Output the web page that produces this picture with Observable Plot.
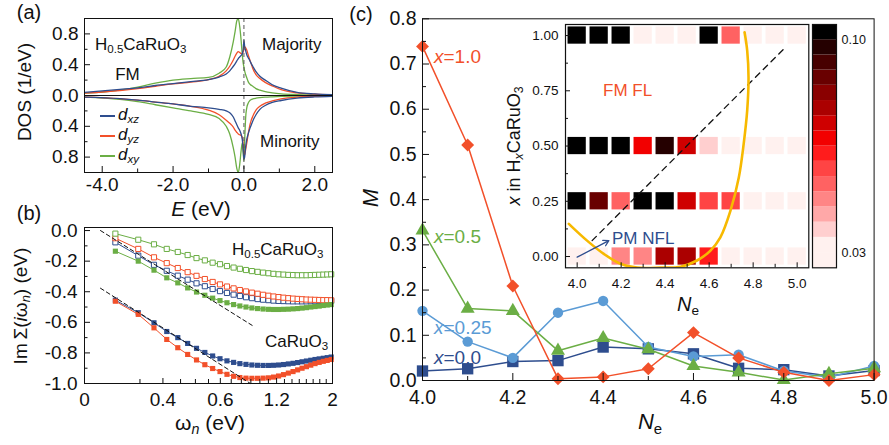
<!DOCTYPE html>
<html><head><meta charset="utf-8">
<script src="https://cdn.jsdelivr.net/npm/d3@7"></script>
<script src="https://cdn.jsdelivr.net/npm/@observablehq/plot@0.6"></script>
<style>
body{margin:0;background:#fff;}
#wrap{position:relative;width:889px;height:445px;overflow:hidden;font-family:"Liberation Sans",Arial,Helvetica,sans-serif;color:#111;background:#fff;}
#wrap svg{position:absolute;left:0;top:0;overflow:visible;background:transparent;}
.t{position:absolute;white-space:nowrap;line-height:1;}
.sub{font-size:0.68em;vertical-align:-0.3em;}
.sw{position:absolute;height:2px;width:15px;}
</style></head><body><div id="wrap"></div>
<script>
// ---------------- Panel (a): DOS ----------------
const energy = [-4.5,-3.5,-3,-2.5,-2,-1.5,-1,-0.7,-0.5,-0.4,-0.3,-0.25,-0.2,-0.16,-0.12,-0.08,-0.05,-0.02,0,0.02,0.05,0.08,0.12,0.16,0.2,0.25,0.34,0.45,0.6,0.8,1.05,1.5,2,2.5];
const majXZ = [0.04,0.08,0.1,0.13,0.155,0.18,0.205,0.24,0.28,0.32,0.38,0.41,0.45,0.48,0.5,0.52,0.54,0.6,0.72,0.64,0.58,0.53,0.49,0.46,0.42,0.38,0.31,0.25,0.2,0.14,0.095,0.04,0.02,0.01];
const majYZ = [0.03,0.065,0.09,0.12,0.15,0.175,0.205,0.25,0.32,0.38,0.46,0.51,0.55,0.57,0.56,0.545,0.545,0.57,0.6,0.63,0.62,0.59,0.53,0.47,0.42,0.35,0.27,0.22,0.17,0.125,0.075,0.035,0.018,0.008];
const majXY = [0.03,0.07,0.11,0.16,0.2,0.22,0.235,0.29,0.37,0.5,0.7,0.83,0.97,1.0,0.9,0.72,0.55,0.42,0.37,0.32,0.27,0.23,0.18,0.15,0.135,0.12,0.09,0.07,0.05,0.035,0.022,0.012,0.007,0.005];
const minXZ = [0.02,0.04,0.06,0.085,0.11,0.14,0.16,0.18,0.2,0.225,0.28,0.33,0.38,0.42,0.45,0.5,0.56,0.7,0.83,0.8,0.66,0.57,0.5,0.44,0.39,0.33,0.25,0.18,0.13,0.09,0.065,0.034,0.018,0.01];
const minYZ = [0.02,0.04,0.06,0.085,0.11,0.14,0.19,0.25,0.32,0.36,0.41,0.45,0.48,0.5,0.51,0.52,0.54,0.64,0.78,0.77,0.7,0.62,0.5,0.4,0.33,0.27,0.19,0.14,0.1,0.07,0.043,0.02,0.012,0.008];
const minXY = [0.02,0.05,0.08,0.12,0.16,0.2,0.245,0.3,0.4,0.5,0.68,0.8,0.95,1.0,0.9,0.72,0.62,0.75,0.85,0.6,0.28,0.16,0.1,0.07,0.055,0.045,0.035,0.028,0.022,0.017,0.012,0.008,0.005,0.004];
const aXLabels = [-4,-2,0,2];
const aXMinor = [-3,-1,1];
const aYLabels = [-0.8,-0.4,0,0.4,0.8];
const aYMinor = [-0.6,-0.2,0.2,0.6];

// ---------------- Panel (b): Im Sigma ----------------
const omega = [0.031,0.094,0.157,0.220,0.283,0.346,0.408,0.471,0.534,0.597,0.660,0.723,0.785,0.848,0.911,0.974,1.037,1.100,1.162,1.225,1.288,1.351,1.414,1.477,1.539,1.602,1.665,1.728,1.791,1.854,1.916,1.979];
const h05OpenXY = [-0.02,-0.06,-0.09,-0.12,-0.14,-0.16,-0.18,-0.195,-0.21,-0.22,-0.232,-0.242,-0.25,-0.258,-0.265,-0.27,-0.275,-0.279,-0.283,-0.286,-0.288,-0.29,-0.291,-0.292,-0.292,-0.292,-0.291,-0.29,-0.289,-0.288,-0.287,-0.286];
const h05OpenYZ = [-0.05,-0.12,-0.175,-0.213,-0.245,-0.272,-0.296,-0.317,-0.336,-0.352,-0.366,-0.378,-0.389,-0.398,-0.406,-0.413,-0.42,-0.426,-0.431,-0.435,-0.439,-0.442,-0.445,-0.447,-0.449,-0.451,-0.452,-0.453,-0.454,-0.455,-0.455,-0.456];
const h05OpenXZ = [-0.077,-0.164,-0.224,-0.263,-0.295,-0.321,-0.345,-0.364,-0.382,-0.396,-0.408,-0.419,-0.428,-0.436,-0.442,-0.448,-0.452,-0.455,-0.458,-0.46,-0.461,-0.462,-0.463,-0.463,-0.463,-0.463,-0.462,-0.462,-0.461,-0.461,-0.46,-0.46];
const h05FilledXY = [-0.135,-0.2,-0.259,-0.309,-0.342,-0.375,-0.402,-0.423,-0.442,-0.458,-0.472,-0.484,-0.493,-0.5,-0.506,-0.51,-0.513,-0.515,-0.516,-0.516,-0.515,-0.514,-0.512,-0.51,-0.507,-0.504,-0.5,-0.497,-0.494,-0.49,-0.487,-0.484];
const caXZ = [-0.455,-0.537,-0.603,-0.66,-0.7,-0.738,-0.77,-0.797,-0.82,-0.838,-0.852,-0.862,-0.87,-0.875,-0.879,-0.881,-0.882,-0.882,-0.881,-0.879,-0.876,-0.872,-0.868,-0.863,-0.858,-0.853,-0.848,-0.843,-0.839,-0.835,-0.831,-0.827];
const caYZ = [-0.462,-0.548,-0.636,-0.712,-0.766,-0.81,-0.846,-0.877,-0.902,-0.922,-0.94,-0.953,-0.961,-0.965,-0.966,-0.966,-0.965,-0.963,-0.958,-0.951,-0.942,-0.932,-0.922,-0.911,-0.9,-0.89,-0.88,-0.87,-0.862,-0.855,-0.849,-0.843];
const dashUpperW = [0.0083, 0.914], dashUpperS = [0, -0.62];
const dashLowerW = [0.0083, 0.895], dashLowerS = [-0.377, -1.0];
const bXTickVals = [0, 0.2, 0.6, 1.2, 2];
const bXTickLabels = ["0", "0.4", "0.6", "1.2", "2"];
const bXMinor = [0.1,0.3,0.4,0.5,0.7,0.8,0.9,1.0,1.1,1.3,1.4,1.5,1.6,1.7,1.8,1.9];
const bYLabels = [0,-0.2,-0.4,-0.6,-0.8,-1.0];
const bYMinor = [-0.1,-0.3,-0.5,-0.7,-0.9];

// ---------------- Panel (c): moment M ----------------
const ne = [4.0,4.1,4.2,4.3,4.4,4.5,4.6,4.7,4.8,4.9,5.0];
const mX00  = [0.021,0.026,0.042,0.044,0.074,0.070,0.059,0.027,0.024,0.010,0.022];
const mX025 = [0.154,0.086,0.050,0.150,0.176,0.074,0.053,0.057,0.021,0.007,0.032];
const mX05  = [0.332,0.159,0.154,0.066,0.094,0.069,0.032,0.018,0.001,0.015,0.027];
const mX10  = [0.739,0.521,0.209,0.004,0.008,0.026,0.106,0.050,0.018,0.000,0.013];
const cXLabels = [4.0,4.2,4.4,4.6,4.8,5.0];
const cXMinor = [4.1,4.3,4.5,4.7,4.9];
const cYLabels = [0,0.1,0.2,0.3,0.4,0.5,0.6,0.7,0.8];
const cYMinor = [0.05,0.15,0.25,0.35,0.45,0.55,0.65,0.75];

// inset heat map (colour bar 0.03 - 0.10)
const hRows = [0, 0.25, 0.5, 1.0];
const heatX00  = [0.021,0.026,0.046,0.046,0.078,0.078,0.063,0.027,0.024,0.010,0.022];
const heatX025 = [0.154,0.086,0.051,0.150,0.176,0.073,0.058,0.057,0.021,0.007,0.028];
const heatX05  = [0.332,0.159,0.154,0.067,0.096,0.073,0.038,0.018,0.001,0.015,0.027];
const heatX10  = [0.739,0.521,0.209,0.004,0.008,0.026,0.106,0.052,0.018,0.000,0.013];
const yellowNe = [3.962,4.045,4.121,4.197,4.273,4.379,4.47,4.545,4.606,4.651,4.697,4.735,4.757,4.773,4.779,4.773,4.761];
const yellowX  = [0.148,0.072,0.012,-0.033,-0.05,-0.05,-0.046,-0.018,0.027,0.087,0.208,0.359,0.51,0.661,0.811,0.932,1.015];
const insetDashNe = [4.068, 4.947], insetDashX = [0.072, 0.947];
const arrowFrom = [4.0, -0.003], arrowTo = [4.144, 0.072];
const iXLabels = [4.0,4.2,4.4,4.6,4.8,5.0];
const iXMinor = [4.1,4.3,4.5,4.7,4.9];
const iYLabels = [0,0.25,0.5,0.75,1.0];
const iYMinor = [0.125,0.375,0.625,0.875];
// colour bar, bottom (low) to top (high)
const cbColors = ["#fff1ef","#fff1ef","#ffcfcf","#ffa8a8","#ff8585","#ff6262","#ff4444","#ff1c1c","#f20000","#cf0000","#ab0000","#8a0000","#690000","#470000","#250000","#000000"];
const cbTickVals = [0.03, 0.10];
const cbTickLabels = ["0.03", "0.10"];

// ---------------- drawing ----------------
const W = 889, H = 445;
const FONT = '"Liberation Sans", Arial, Helvetica, sans-serif';
const BLUE = "#2e4d8e", RED = "#f2502a", GREEN = "#6bae45", LBLUE = "#5b9bd5", YELLOW = "#f7b900";
const wrap = document.getElementById("wrap");
const ser = (xs, ys) => xs.map((x, i) => ({x, y: ys[i]}));
const sty = fs => ({fontFamily: FONT, fontSize: fs + "px", color: "#111", background: "transparent", overflow: "visible"});
const box = b => ({width: W, height: H, marginLeft: b.l, marginRight: W - b.r, marginTop: b.t, marginBottom: H - b.b});
const tB = (vals, b, len) => Plot.tickX(vals, {x: d => d, insetTop: (b.b - b.t) - len, stroke: "#111", strokeWidth: 1});
const tL = (vals, b, len) => Plot.tickY(vals, {y: d => d, insetRight: (b.r - b.l) - len, stroke: "#111", strokeWidth: 1});

// (a)
const A = {l: 84, r: 332, t: 18, b: 172};
const aLines = [];
[[majXY, GREEN], [majYZ, RED], [majXZ, BLUE]].forEach(([ys, c]) =>
  aLines.push(Plot.line(ser(energy, ys), {x: "x", y: "y", stroke: c, strokeWidth: 1.3, curve: "monotone-x", clip: true})));
[[minXY, GREEN], [minYZ, RED], [minXZ, BLUE]].forEach(([ys, c]) =>
  aLines.push(Plot.line(ser(energy, ys), {x: "x", y: d => -d.y, stroke: c, strokeWidth: 1.3, curve: "monotone-x", clip: true})));
wrap.appendChild(Plot.plot({
  ...box(A), style: sty(19),
  x: {domain: [-4.5, 2.5]}, y: {domain: [-1, 1]},
  marks: [
    ...aLines,
    Plot.ruleX([0], {stroke: "#555", strokeDasharray: "4,3", strokeWidth: 1}),
    Plot.ruleY([0], {stroke: "#111", strokeWidth: 1.2}),
    Plot.frame({stroke: "#111"}),
    tB(aXLabels, A, 6), tB(aXMinor, A, 3.5),
    tL(aYLabels, A, 6), tL(aYMinor, A, 3.5),
    Plot.axisX(aXLabels, {tickSize: 0, tickPadding: 5, tickFormat: d => d.toFixed(1), label: null, fontSize: 19}),
    Plot.axisY(aYLabels, {tickSize: 0, tickPadding: 6, tickFormat: d => Math.abs(d).toFixed(1), label: null, fontSize: 19})
  ]
}));

// (b)
const B = {l: 84, r: 332, t: 227, b: 383};
const bLab = new Map(bXTickVals.map((v, i) => [v, bXTickLabels[i]]));
const bSeries = [
  [h05OpenXZ, BLUE, true], [h05OpenYZ, RED, true], [h05OpenXY, GREEN, true], [h05FilledXY, GREEN, false],
  [caXZ, BLUE, false], [caYZ, RED, false]
];
const bMarks = [];
bSeries.forEach(([ys, c, open]) => {
  const d = ser(omega, ys);
  bMarks.push(Plot.line(d, {x: "x", y: "y", stroke: c, strokeWidth: 1}));
  bMarks.push(Plot.dot(d, {x: "x", y: "y", symbol: "square", r: 2.9, fill: open ? "white" : c, stroke: open ? c : "none", strokeWidth: 1}));
});
wrap.appendChild(Plot.plot({
  ...box(B), style: sty(19),
  x: {type: "sqrt", domain: [0, 2]}, y: {domain: [-1, 0.02]},
  marks: [
    ...bMarks,
    Plot.line(ser(dashUpperW, dashUpperS), {x: "x", y: "y", stroke: "#111", strokeDasharray: "4,3", strokeWidth: 1}),
    Plot.line(ser(dashLowerW, dashLowerS), {x: "x", y: "y", stroke: "#111", strokeDasharray: "4,3", strokeWidth: 1}),
    Plot.frame({stroke: "#111"}),
    tB(bXTickVals, B, 5), tB(bXMinor, B, 4),
    tL(bYLabels, B, 6), tL(bYMinor, B, 3.5),
    Plot.axisX(bXTickVals, {tickSize: 0, tickPadding: 9, tickFormat: d => bLab.get(d), label: null, fontSize: 19}),
    Plot.axisY(bYLabels, {tickSize: 0, tickPadding: 7, tickFormat: d => d.toFixed(1), label: null, fontSize: 19})
  ]
}));

// (c) main
const C = {l: 422, r: 873.6, t: 18.3, b: 380};
const cSeries = [
  [mX00, BLUE, "square", 6.4], [mX025, LBLUE, "circle", 5.2], [mX05, GREEN, "triangle", 5.2], [mX10, RED, "diamond2", 5.8]
];
const cMarks = [];
cSeries.forEach(([ys, c, sym, r]) => {
  const d = ser(ne, ys);
  cMarks.push(Plot.line(d, {x: "x", y: "y", stroke: c, strokeWidth: 1.5}));
  cMarks.push(Plot.dot(d, {x: "x", y: "y", symbol: sym, r, fill: c, stroke: "none"}));
});
wrap.appendChild(Plot.plot({
  ...box(C), style: sty(19.5),
  x: {domain: [4, 5]}, y: {domain: [0, 0.8]},
  marks: [
    ...cMarks,
    Plot.frame({stroke: "#111"}),
    tB(cXLabels, C, 7), tB(cXMinor, C, 4),
    tL(cYLabels, C, 7), tL(cYMinor, C, 4),
    Plot.axisX(cXLabels, {tickSize: 0, tickPadding: 10, tickFormat: d => d.toFixed(1), label: null, fontSize: 19.5}),
    Plot.axisY(cYLabels, {tickSize: 0, tickPadding: 6, tickFormat: d => d.toFixed(1), label: null, fontSize: 19.5})
  ]
}));

// (c) inset
const I = {l: 565, r: 808.3, t: 24, b: 267.3};
const cells = [];
[heatX00, heatX025, heatX05, heatX10].forEach((arr, j) => arr.forEach((v, i) => cells.push({ne: ne[i], x: hRows[j], v})));
const thresholds = d3.range(15).map(i => +(0.03 + 0.005 * i).toFixed(3));
wrap.appendChild(Plot.plot({
  ...box(I), style: sty(13.5),
  x: {domain: [3.947, 5.053]}, y: {domain: [-0.051, 1.05]},
  color: {type: "threshold", domain: thresholds, range: cbColors},
  marks: [
    Plot.frame({fill: "white", stroke: "none"}),
    Plot.rect(cells, {x1: d => d.ne - 0.0415, x2: d => d.ne + 0.0415, y1: d => d.x - 0.039, y2: d => d.x + 0.039, fill: "v"}),
    Plot.line(ser(insetDashNe, insetDashX), {x: "x", y: "y", stroke: "#111", strokeWidth: 1.3, strokeDasharray: "6,5"}),
    Plot.line(ser(yellowNe, yellowX), {x: "x", y: "y", stroke: YELLOW, strokeWidth: 2.6, curve: "catmull-rom", clip: true}),
    Plot.arrow([{x1: arrowFrom[0], y1: arrowFrom[1], x2: arrowTo[0], y2: arrowTo[1]}], {x1: "x1", y1: "y1", x2: "x2", y2: "y2", stroke: BLUE, strokeWidth: 1.3, headLength: 7}),
    Plot.frame({stroke: "#111", strokeWidth: 1.2}),
    tB(iXLabels, I, 5), tB(iXMinor, I, 3.5),
    tL(iYLabels, I, 5), tL(iYMinor, I, 3),
    Plot.axisX(iXLabels, {tickSize: 0, tickPadding: 11, tickFormat: d => d.toFixed(1), label: null, fontSize: 13.5}),
    Plot.axisY(iYLabels, {tickSize: 0, tickPadding: 7, tickFormat: d => d.toFixed(2), label: null, fontSize: 13.5})
  ]
}));

// colour bar
const CB = {l: 812, r: 836, t: 24, b: 267.3};
const cbPos = v => 1 + (v - 0.03) / 0.07 * 14;
wrap.appendChild(Plot.plot({
  ...box(CB), style: sty(12.5),
  x: {domain: [0, 1], axis: null}, y: {domain: [0, 16], axis: null},
  color: {type: "identity"},
  marks: [
    Plot.rect(cbColors, {x1: 0, x2: 1, y1: (d, i) => i, y2: (d, i) => i + 1, fill: d => d}),
    Plot.frame({stroke: "#111", strokeWidth: 1.2}),
    Plot.text(cbTickVals, {x: 1, y: d => cbPos(d), dx: 5, text: (d, i) => cbTickLabels[i], textAnchor: "start", fontSize: 12.5, fill: "#111"})
  ]
}));

// ---------------- text labels ----------------
function label(html, x, y, {size = 18, color = "#111", align = "center", rotate = false} = {}) {
  const d = document.createElement("div");
  d.className = "t";
  d.innerHTML = html;
  d.style.left = x + "px"; d.style.top = y + "px";
  d.style.fontSize = size + "px"; d.style.color = color;
  const tx = align === "center" ? "-50%" : align === "end" ? "-100%" : "0";
  d.style.transform = `translate(${tx},-50%)` + (rotate ? " rotate(-90deg)" : "");
  wrap.appendChild(d);
}
const sub = s => `<span class="sub">${s}</span>`;
label("(a)", 29, 12, {size: 20});
label("(b)", 29, 213, {size: 20});
label("(c)", 361, 14, {size: 20});
label("DOS (1/eV)", 24, 92, {size: 19, rotate: true});
label("<i>E</i> (eV)", 201, 208, {size: 21});
label(`Im&thinsp;Σ(<i>i</i>ω${sub("<i>n</i>")}) (eV)`, 22, 306, {size: 19, rotate: true});
label(`ω${sub("<i>n</i>")} (eV)`, 210, 424, {size: 21});
label(`H${sub("0.5")}CaRuO${sub("3")}`, 95, 46, {size: 17, align: "start"});
label("FM", 127.5, 74, {size: 17});
label("Majority", 262, 44, {size: 17, align: "start"});
label("Minority", 260, 141, {size: 17, align: "start"});
[["xz", BLUE, 116], ["yz", RED, 136], ["xy", GREEN, 156]].forEach(([s, c, y]) => {
  const sw = document.createElement("div");
  sw.className = "sw"; sw.style.left = "100px"; sw.style.top = (y - 1) + "px"; sw.style.background = c;
  wrap.appendChild(sw);
  label(`<i>d${sub(s)}</i>`, 118, y, {size: 17, align: "start"});
});
label(`H${sub("0.5")}CaRuO${sub("3")}`, 232, 251, {size: 17, align: "start"});
label(`CaRuO${sub("3")}`, 265, 343, {size: 17, align: "start"});
label("<i>M</i>", 371, 198, {size: 22, rotate: true});
label(`<i>N</i>${sub("e")}`, 650, 424, {size: 22});
label("<i>x</i>=1.0", 434, 56, {size: 19, color: RED, align: "start"});
label("<i>x</i>=0.5", 434, 236, {size: 19, color: GREEN, align: "start"});
label("<i>x</i>=0.25", 434, 327, {size: 19, color: LBLUE, align: "start"});
label("<i>x</i>=0.0", 434, 357, {size: 19, color: BLUE, align: "start"});
label(`<i>x</i> in H${sub("<i>x</i>")}CaRuO${sub("3")}`, 515, 146, {size: 18, rotate: true});
label(`<i>N</i>${sub("e")}`, 688, 306, {size: 20});
label("FM FL", 603, 90, {size: 17, color: RED, align: "start"});
label("PM NFL", 612, 238, {size: 17, color: BLUE, align: "start"});
</script></body></html>
